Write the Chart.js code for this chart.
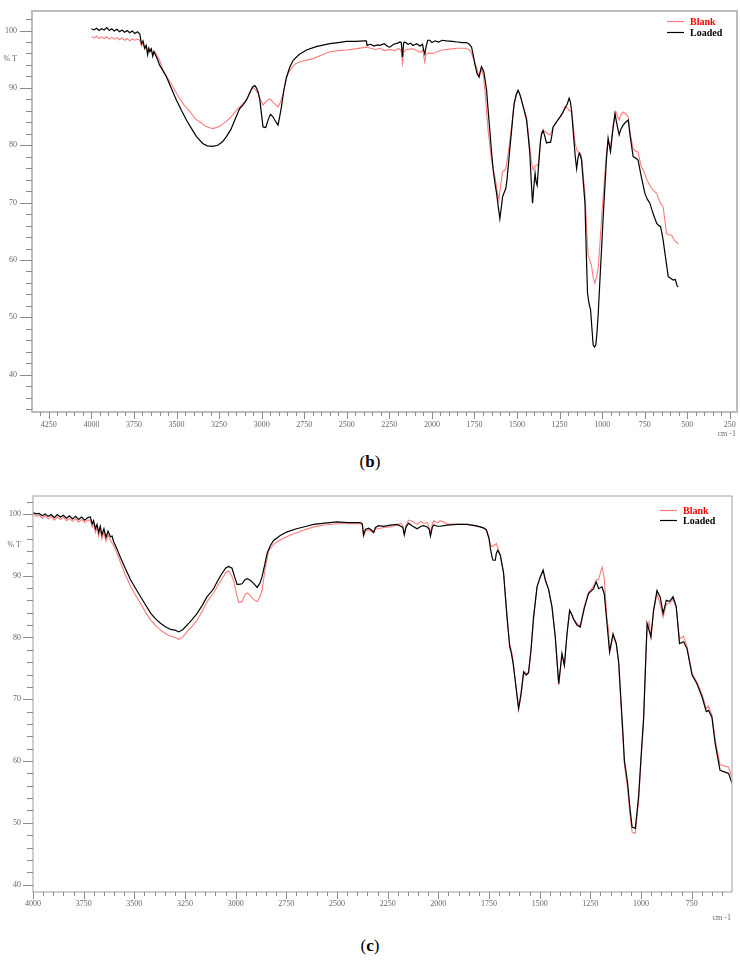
<!DOCTYPE html>
<html>
<head>
<meta charset="utf-8">
<script src="https://cdn.jsdelivr.net/npm/chart.js@4.4.1/dist/chart.umd.min.js"></script>
<style>
  body { margin: 0; background: #fff; width: 740px; height: 968px; position: relative; overflow: hidden; }
  .panel { position: absolute; left: 0; width: 740px; }
  .caption { position: absolute; left: 0; width: 740px; text-align: center; font: 17px "Liberation Serif", serif; color: #000; }
</style>
</head>
<body>
<div class="panel" style="top:0;height:445px"><canvas id="chart-b"></canvas></div>
<div class="caption" style="top:452px">(<b>b</b>)</div>
<div class="panel" style="top:484px;height:440px"><canvas id="chart-c"></canvas></div>
<div class="caption" style="top:936px">(<b>c</b>)</div>
<script>
// ---- panel (b) ----
const bLoadedWn = [4000,3985,3970,3955,3940,3925,3910,3895,3880,3865,3850,3835,3820,3805,3790,3775,3760,3745,3730,3716,3706,3697,3687,3678,3670,3663,3657,3648,3640,3633,3628,3615,3600,3580,3559,3530,3501,3470,3442,3410,3383,3346,3320,3287,3258,3230,3207,3180,3158,3129,3110,3089,3065,3052,3040,3031,3020,3011,3000,2992,2976,2960,2948,2935,2923,2904,2894,2884,2870,2854,2835,2815,2780,2737,2680,2600,2550,2502,2450,2394,2385,2381,2360,2340,2320,2306,2280,2260,2247,2225,2200,2189,2180,2173,2166,2159,2140,2125,2112,2090,2070,2055,2048,2042,2034,2025,2012,2000,1980,1960,1940,1914,1880,1850,1820,1797,1780,1767,1758,1748,1735,1723,1715,1709,1702,1695,1688,1679,1670,1660,1650,1640,1630,1620,1610,1601,1593,1585,1575,1566,1559,1552,1542,1532,1524,1517,1505,1494,1485,1474,1460,1444,1435,1425,1417,1409,1402,1394,1388,1382,1372,1362,1355,1347,1337,1327,1315,1303,1295,1288,1270,1248,1235,1219,1205,1194,1187,1180,1173,1166,1158,1150,1142,1135,1128,1121,1112,1101,1094,1086,1078,1068,1060,1053,1045,1037,1030,1023,1014,1004,994,984,975,965,958,951,938,925,913,900,890,877,862,847,835,818,805,789,770,749,735,720,700,680,668,657,648,642,628,612,598,583,570,560,553];
const bLoadedT = [100.3,100.1,100.4,100.0,100.3,100.1,100.5,100.0,100.3,99.9,100.2,99.8,100.1,99.7,100.0,99.6,99.9,99.5,99.8,99.4,97.7,98.2,96.9,97.4,95.8,96.9,96.3,96.8,95.5,96.3,96.0,95.2,94.0,93.0,91.9,89.9,87.9,86.0,84.4,82.8,81.5,80.3,79.9,79.8,80.0,80.6,81.5,82.8,84.4,86.4,87.0,87.9,89.5,90.2,90.4,90.0,89.2,87.9,85.2,83.2,83.1,84.6,85.4,85.0,84.4,83.5,85.0,86.7,89.5,91.9,93.6,94.8,95.8,96.6,97.2,97.7,97.9,98.1,98.1,98.2,98.2,97.4,97.6,97.3,97.5,97.4,97.7,97.2,97.1,97.6,97.8,98.0,97.9,95.4,97.8,98.0,97.6,97.8,97.4,97.7,97.3,97.6,96.5,95.9,97.2,98.3,98.3,97.9,98.2,98.0,98.3,98.2,98.1,98.0,97.9,97.9,97.6,97.1,95.8,94.2,92.5,91.9,93.0,93.7,93.3,92.8,91.5,89.6,86.2,82.6,78.9,75.7,73.4,71.6,69.2,67.2,69.0,71.0,71.8,72.5,74.0,76.2,79.5,82.6,85.2,87.3,88.8,89.6,89.0,87.9,86.3,84.4,81.8,78.6,74.0,69.9,72.5,75.1,73.6,73.0,77.0,80.9,82.0,82.6,81.6,80.4,80.5,80.5,81.8,83.2,84.0,84.9,85.5,86.4,87.2,88.2,87.6,86.1,83.5,80.9,78.0,75.9,77.8,78.6,78.2,77.4,74.0,69.9,62.0,54.2,52.5,51.3,48.0,45.2,44.8,45.2,47.5,50.7,56.0,61.7,67.5,72.8,77.5,81.2,80.0,78.9,82.5,85.5,83.6,81.8,82.8,83.5,84.0,84.4,81.5,78.0,77.8,77.4,74.5,71.6,70.6,69.9,68.0,66.4,66.0,65.8,64.5,63.5,60.5,57.1,56.8,56.5,56.6,55.5,55.3];

const bBlankWn = [4000,3985,3970,3955,3940,3925,3910,3895,3880,3865,3850,3835,3820,3805,3790,3775,3760,3745,3730,3716,3706,3697,3687,3678,3670,3657,3640,3628,3600,3579,3550,3521,3490,3455,3420,3390,3364,3330,3300,3286,3246,3220,3187,3160,3129,3089,3065,3052,3040,3021,3005,2992,2975,2960,2948,2930,2904,2890,2874,2860,2845,2820,2796,2760,2698,2650,2600,2550,2502,2450,2384,2360,2330,2306,2280,2247,2220,2200,2189,2180,2173,2165,2150,2112,2090,2070,2055,2048,2042,2035,2020,1993,1970,1940,1914,1880,1850,1820,1797,1780,1767,1755,1738,1723,1715,1706,1697,1689,1680,1670,1660,1650,1640,1630,1618,1607,1597,1585,1575,1566,1559,1552,1542,1532,1520,1503,1490,1484,1470,1455,1444,1435,1425,1415,1405,1397,1389,1382,1376,1366,1356,1346,1336,1320,1307,1295,1288,1270,1248,1230,1219,1205,1194,1180,1170,1160,1148,1138,1128,1121,1112,1101,1092,1083,1073,1063,1053,1043,1033,1023,1014,1004,994,984,975,965,958,951,935,919,910,900,890,877,862,847,835,818,805,789,770,759,735,710,695,680,660,642,630,622,608,592,575,560,553];
const bBlankT = [98.9,98.7,99.0,98.6,98.9,98.6,98.9,98.5,98.8,98.5,98.8,98.4,98.7,98.3,98.6,98.2,98.5,98.3,98.5,98.3,97.3,97.8,96.8,97.3,96.2,96.9,96.0,96.4,94.8,93.1,91.6,90.2,88.5,87.0,85.8,84.6,84.1,83.3,83.0,82.9,83.3,83.9,84.7,85.7,86.7,87.9,89.3,90.1,89.8,89.0,87.8,87.0,87.6,88.0,88.0,87.4,86.7,87.5,89.0,91.0,92.5,93.6,94.3,94.7,95.1,95.7,96.3,96.5,96.6,96.8,97.1,96.9,96.7,96.9,96.5,96.7,96.5,96.8,96.8,96.3,94.3,96.3,96.7,96.8,96.5,96.2,96.6,95.5,94.5,95.8,96.1,96.0,96.3,96.6,96.7,96.8,96.9,96.9,96.9,96.6,96.0,95.0,93.6,91.9,92.7,93.2,92.0,89.6,86.3,82.6,80.0,77.4,75.8,74.5,72.3,70.4,72.8,75.4,75.6,75.9,77.2,78.6,80.9,83.2,86.5,89.0,89.3,88.9,87.3,86.0,84.9,82.4,79.7,77.0,75.7,76.2,76.5,76.6,76.3,79.5,82.3,82.5,82.4,82.0,81.8,82.5,83.2,84.0,84.9,85.7,86.7,86.5,86.1,85.9,83.5,80.5,79.1,78.8,78.6,78.0,75.0,71.6,66.0,60.9,60.0,59.1,57.0,55.9,57.0,58.5,62.5,66.9,71.0,75.1,78.5,80.9,80.2,79.7,83.5,85.8,85.0,84.4,85.3,85.8,85.5,84.9,82.0,79.4,79.0,78.8,76.2,75.7,73.8,72.5,72.0,71.6,70.0,69.3,66.5,64.6,64.4,64.3,63.4,63.0,62.8];

const bXTicks = [4300,4250,4200,4150,4100,4050,4000,3950,3900,3850,3800,3750,3700,3650,3600,3550,3500,3450,3400,3350,3300,3250,3200,3150,3100,3050,3000,2950,2900,2850,2800,2750,2700,2650,2600,2550,2500,2450,2400,2350,2300,2250,2200,2150,2100,2050,2000,1950,1900,1850,1800,1750,1700,1650,1600,1550,1500,1450,1400,1350,1300,1250,1200,1150,1100,1050,1000,950,900,850,800,750,700,650,600,550,500,450,400,350,300,250];
const bXLabels = [4250,4000,3750,3500,3250,3000,2750,2500,2250,2000,1750,1500,1250,1000,750,500,250];
const bYTicks = [34,36,38,40,42,44,46,48,50,52,54,56,58,60,62,64,66,68,70,72,74,76,78,80,82,84,86,88,90,92,94,96,98,100,102];
const bYLabels = [40,50,60,70,80,90,100];

// ---- panel (c) ----
const cLoadedWn = [4000,3985,3970,3955,3940,3925,3910,3895,3880,3865,3850,3835,3820,3805,3790,3775,3760,3745,3730,3717,3708,3701,3692,3684,3676,3668,3660,3650,3640,3630,3618,3610,3602,3585,3569,3545,3518,3495,3469,3445,3419,3395,3371,3345,3320,3300,3281,3260,3240,3215,3190,3165,3141,3125,3109,3090,3067,3050,3035,3018,3005,2993,2985,2968,2955,2944,2930,2919,2905,2894,2880,2870,2855,2845,2830,2813,2780,2746,2700,2650,2615,2560,2500,2445,2385,2375,2369,2360,2344,2330,2319,2310,2295,2270,2237,2204,2185,2175,2168,2160,2147,2130,2105,2085,2073,2055,2045,2039,2030,2023,2005,1990,1957,1910,1858,1820,1793,1775,1763,1750,1743,1735,1730,1719,1714,1707,1694,1678,1661,1648,1640,1631,1615,1604,1592,1579,1566,1555,1543,1530,1513,1497,1483,1472,1456,1439,1423,1406,1390,1378,1365,1352,1340,1333,1316,1300,1280,1259,1234,1221,1209,1192,1181,1168,1155,1138,1122,1110,1102,1090,1082,1066,1055,1044,1028,1012,1000,987,970,951,938,921,905,891,875,859,842,826,810,790,773,748,724,699,678,667,650,634,610,585,568,551];
const cLoadedT = [100.2,100.0,100.1,99.7,100.0,99.6,99.9,99.4,99.9,99.5,99.8,99.3,99.7,99.2,99.6,99.1,99.5,99.0,99.4,99.5,98.4,98.9,97.6,98.3,97.0,98.0,96.6,97.6,96.2,97.2,96.3,96.4,95.5,94.3,93.0,91.2,89.3,88.0,86.6,85.3,83.9,83.0,82.3,81.7,81.3,81.2,80.9,81.3,82.0,82.9,83.9,85.2,86.6,87.2,87.9,89.1,90.4,91.2,91.5,91.2,89.8,88.6,88.6,88.7,89.3,89.5,89.3,89.0,88.5,88.1,88.8,89.8,92.0,93.6,94.8,95.7,96.5,97.1,97.6,98.0,98.3,98.5,98.7,98.6,98.6,98.4,96.6,97.5,97.7,97.4,97.0,97.8,98.1,98.0,98.2,98.3,98.0,97.8,96.6,97.8,98.5,98.1,97.6,98.0,98.1,97.9,97.5,96.4,97.8,98.2,98.0,98.0,98.2,98.3,98.3,98.1,97.9,97.7,97.4,96.0,94.4,93.0,92.5,92.5,93.6,94.1,93.3,90.4,83.3,78.5,77.5,75.8,71.5,68.5,70.9,74.4,73.9,74.3,77.9,83.3,88.2,89.8,90.9,89.3,87.8,84.9,80.1,72.5,77.4,75.5,80.6,84.4,83.6,83.0,82.0,81.7,84.7,87.1,87.9,89.0,87.9,88.2,87.0,82.3,77.7,80.6,79.0,76.0,71.5,65.0,60.1,56.4,52.5,49.3,49.1,54.2,60.5,67.1,82.3,80.1,84.4,87.6,86.5,83.9,86.0,85.8,86.6,85.0,79.0,79.3,78.2,73.9,72.5,70.4,68.0,68.2,67.1,62.8,58.5,58.2,58.0,56.4];

const cBlankWn = [4000,3985,3970,3955,3940,3925,3910,3895,3880,3865,3850,3835,3820,3805,3790,3775,3760,3745,3730,3717,3708,3701,3692,3684,3676,3668,3660,3650,3640,3630,3618,3602,3585,3569,3545,3518,3495,3469,3445,3419,3395,3371,3345,3320,3300,3281,3260,3240,3215,3190,3165,3141,3109,3090,3067,3050,3035,3020,3010,2998,2985,2968,2955,2944,2930,2919,2905,2894,2880,2870,2855,2837,2815,2796,2760,2730,2680,2615,2560,2500,2445,2385,2375,2369,2360,2344,2319,2310,2295,2270,2237,2204,2185,2175,2168,2160,2147,2130,2105,2085,2073,2055,2045,2039,2030,2023,2005,1990,1957,1910,1858,1820,1793,1775,1763,1750,1743,1735,1728,1719,1714,1707,1694,1678,1661,1648,1640,1631,1615,1604,1592,1579,1566,1555,1543,1530,1513,1497,1483,1472,1456,1439,1423,1406,1390,1378,1365,1352,1340,1333,1316,1300,1280,1259,1234,1221,1209,1192,1181,1168,1160,1155,1138,1122,1110,1102,1090,1082,1066,1055,1044,1028,1012,1000,987,975,970,960,951,938,921,905,891,875,859,842,826,810,790,773,748,724,699,678,667,650,634,610,585,568,551];
const cBlankT = [100.0,99.6,99.8,99.3,99.7,99.2,99.6,99.0,99.5,99.1,99.5,98.9,99.3,98.8,99.2,98.7,99.1,98.6,99.0,99.0,97.9,98.4,97.0,97.8,96.4,97.5,96.0,97.0,95.6,96.6,95.7,94.9,93.6,92.2,90.2,88.2,86.9,85.5,84.1,82.8,81.9,81.2,80.6,80.2,80.0,79.7,80.1,80.9,81.8,82.8,84.3,85.8,87.2,88.3,89.5,90.4,90.8,90.0,89.2,87.3,85.7,85.8,86.9,87.2,86.9,86.4,86.0,85.8,86.6,87.6,91.0,94.1,95.0,95.5,96.1,96.6,97.2,97.9,98.2,98.4,98.4,98.4,98.1,96.3,97.2,97.4,96.9,97.6,97.6,97.8,97.9,98.2,98.5,98.0,96.8,98.1,99.0,98.8,98.3,98.8,98.5,98.6,97.8,96.9,98.3,98.9,98.5,98.9,98.4,98.3,98.3,98.1,97.9,97.7,97.4,96.3,95.0,94.7,94.9,95.0,95.2,94.6,93.3,90.4,83.3,79.0,78.0,76.2,71.5,68.3,70.5,74.6,74.2,74.3,77.9,83.3,88.2,89.8,90.9,89.3,87.8,84.9,80.1,72.3,77.1,75.5,80.6,84.4,83.6,83.0,82.3,81.9,85.0,87.3,88.3,89.3,89.4,91.4,89.5,83.0,81.2,77.5,80.2,79.0,75.6,71.0,64.0,59.5,55.5,51.5,48.5,48.3,53.5,60.0,66.5,78.0,80.9,82.5,80.0,84.2,87.2,85.3,83.3,85.4,85.5,86.2,84.8,79.8,80.2,78.5,74.2,72.8,70.8,68.5,68.9,67.4,63.5,59.4,59.2,59.0,57.4];

const cXTicks = [4000,3950,3900,3850,3800,3750,3700,3650,3600,3550,3500,3450,3400,3350,3300,3250,3200,3150,3100,3050,3000,2950,2900,2850,2800,2750,2700,2650,2600,2550,2500,2450,2400,2350,2300,2250,2200,2150,2100,2050,2000,1950,1900,1850,1800,1750,1700,1650,1600,1550,1500,1450,1400,1350,1300,1250,1200,1150,1100,1050,1000,950,900,850,800,750,700,650,600];
const cXLabels = [4000,3750,3500,3250,3000,2750,2500,2250,2000,1750,1500,1250,1000,750];
const cYTicks = [40,42,44,46,48,50,52,54,56,58,60,62,64,66,68,70,72,74,76,78,80,82,84,86,88,90,92,94,96,98,100,102];
const cYLabels = [40,50,60,70,80,90,100];

const RED_LINE = "#ff7b7b";
const RED_TEXT = "#ff0000";

function toPoints(wn, t) {
  return wn.map((w, i) => ({ x: w, y: t[i] }));
}

// frame, tick marks, tick labels and legend, all placed through the chart scales
const spectrumFrame = {
  id: "spectrumFrame",
  afterDraw(chart, args, o) {
    const { ctx, chartArea: a, scales: { x, y } } = chart;
    ctx.save();

    ctx.strokeStyle = o.frameColor;
    ctx.lineWidth = o.frameWidth;
    ctx.strokeRect(a.left, a.top, a.right - a.left, a.bottom - a.top);

    ctx.strokeStyle = "#8a8a8a";
    ctx.lineWidth = 1;
    ctx.beginPath();
    o.yTicks.forEach((v) => {
      const py = Math.round(y.getPixelForValue(v)) + 0.5;
      const len = v % 10 === 0 ? o.yMajor : o.yMinor;
      ctx.moveTo(a.left - len, py);
      ctx.lineTo(a.left, py);
    });
    o.xTicks.forEach((v) => {
      const px = Math.round(x.getPixelForValue(v)) + 0.5;
      const len = v % 250 === 0 ? o.xMajor : o.xMinor;
      ctx.moveTo(px, a.bottom);
      ctx.lineTo(px, a.bottom + len);
    });
    ctx.stroke();

    ctx.fillStyle = "#666";
    ctx.font = "8px 'Liberation Serif'";
    ctx.textBaseline = "middle";
    ctx.textAlign = "right";
    o.yLabels.forEach((v) => ctx.fillText(String(v), a.left - o.yLabelGap, y.getPixelForValue(v)));
    ctx.fillText("% T", a.left - o.yLabelGap, y.getPixelForValue(95));
    ctx.fillText("cm -1", o.unitX, o.unitY);
    ctx.textAlign = "center";
    o.xLabels.forEach((v) => ctx.fillText(String(v), x.getPixelForValue(v), a.bottom + o.xLabelGap));

    // legend
    ctx.font = "bold 10px 'Liberation Serif'";
    ctx.textAlign = "left";
    const rows = [
      { label: "Blank", line: RED_LINE, text: RED_TEXT },
      { label: "Loaded", line: "#000", text: "#000" },
    ];
    rows.forEach((r, i) => {
      const ly = o.legendY + i * o.legendGap;
      ctx.strokeStyle = r.line;
      ctx.lineWidth = 1.2;
      ctx.beginPath();
      ctx.moveTo(o.legendX, ly + 0.5);
      ctx.lineTo(o.legendX + o.legendLen, ly + 0.5);
      ctx.stroke();
      ctx.fillStyle = r.text;
      ctx.fillText(r.label, o.legendX + o.legendLen + 6, ly + 1);
    });
    ctx.restore();
  },
};

function buildChart(id, cfg) {
  return new Chart(document.getElementById(id), {
    type: "line",
    data: {
      datasets: [
        { label: "Loaded", data: toPoints(cfg.loadedWn, cfg.loadedT), borderColor: "#000", borderWidth: 1.2, pointRadius: 0, tension: 0 },
        { label: "Blank", data: toPoints(cfg.blankWn, cfg.blankT), borderColor: RED_LINE, borderWidth: 1.1, pointRadius: 0, tension: 0 },
      ],
    },
    options: {
      animation: false,
      responsive: true,
      maintainAspectRatio: false,
      layout: { padding: cfg.padding },
      plugins: {
        legend: { display: false },
        tooltip: { enabled: false },
        spectrumFrame: cfg.frame,
      },
      scales: {
        x: {
          type: "linear",
          reverse: true,
          min: cfg.xMin,
          max: cfg.xMax,
          grid: { display: false, drawTicks: false },
          border: { display: false },
          ticks: { display: false },
          afterFit: (s) => { s.height = cfg.xAxisHeight; },
        },
        y: {
          min: cfg.yMin,
          max: cfg.yMax,
          grid: { display: false, drawTicks: false },
          border: { display: false },
          ticks: { display: false },
          afterFit: (s) => { s.width = cfg.yAxisWidth; },
        },
      },
    },
    plugins: [spectrumFrame],
  });
}

buildChart("chart-b", {
  loadedWn: bLoadedWn, loadedT: bLoadedT, blankWn: bBlankWn, blankT: bBlankT,
  xMin: 208, xMax: 4349, yMin: 33.5, yMax: 103.4,
  padding: { top: 11, right: 3, left: 0, bottom: 0 },
  xAxisHeight: 33, yAxisWidth: 32,
  frame: {
    frameColor: "#bdbdbd", frameWidth: 2,
    yTicks: bYTicks, xTicks: bXTicks, yLabels: bYLabels, xLabels: bXLabels,
    yMajor: 12, yMinor: 6, xMajor: 7, xMinor: 4, yLabelGap: 15, xLabelGap: 13,
    unitX: 736, unitY: 434,
    legendX: 667, legendY: 21, legendGap: 11, legendLen: 17,
  },
});

buildChart("chart-c", {
  loadedWn: cLoadedWn, loadedT: cLoadedT, blankWn: cBlankWn, blankT: cBlankT,
  xMin: 551, xMax: 4000, yMin: 38.8, yMax: 102.9,
  padding: { top: 12, right: 8, left: 0, bottom: 0 },
  xAxisHeight: 32, yAxisWidth: 33,
  frame: {
    frameColor: "#b0b0b0", frameWidth: 1.2,
    yTicks: cYTicks, xTicks: cXTicks, yLabels: cYLabels, xLabels: cXLabels,
    yMajor: 10, yMinor: 6, xMajor: 7, xMinor: 4, yLabelGap: 12, xLabelGap: 12,
    unitX: 731, unitY: 434,
    legendX: 660, legendY: 26, legendGap: 10, legendLen: 17,
  },
});
</script>
</body>
</html>
